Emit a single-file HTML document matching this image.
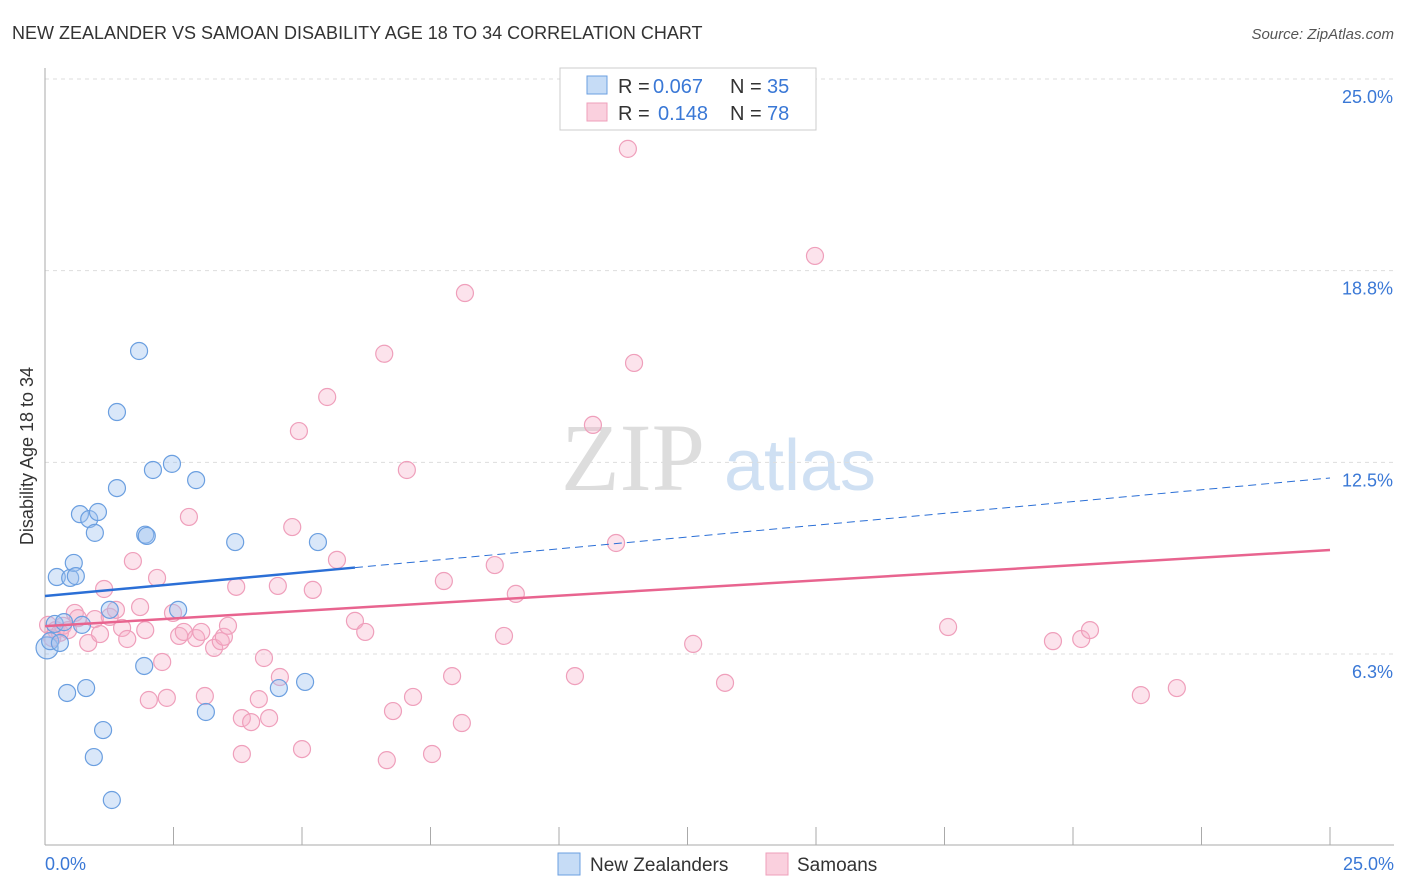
<!DOCTYPE html>
<html><head><meta charset="utf-8"><style>
body{margin:0;background:#fff;font-family:"Liberation Sans",sans-serif;}
svg{display:block}
</style></head><body>
<svg id="c" width="1406" height="892"></svg>
<script>
const blueX=[0.04,0.10,0.19,0.29,0.23,0.37,0.49,0.56,0.60,0.43,0.68,0.80,0.86,0.97,1.03,1.13,0.95,1.30,1.26,1.40,1.40,1.83,1.95,1.98,1.93,2.10,2.47,2.59,2.94,3.13,3.70,4.55,5.06,5.31,0.72];
const blueY=[6.45,6.67,7.23,6.61,8.76,7.29,8.73,9.22,8.79,4.98,10.81,5.14,10.65,10.20,10.88,3.77,2.89,1.49,7.69,11.66,14.14,16.13,10.14,10.10,5.86,12.25,12.45,7.69,11.92,4.36,9.90,5.14,5.34,9.90,7.20];
const pinkX=[0.06,0.14,0.21,0.29,0.35,0.45,0.58,0.64,0.84,0.97,1.07,1.15,1.26,1.38,1.50,1.60,1.71,1.85,1.95,2.02,2.18,2.28,2.37,2.49,2.61,2.70,2.80,2.94,3.04,3.11,3.29,3.42,3.48,3.56,3.72,3.83,3.83,4.01,4.16,4.26,4.36,4.53,4.57,4.81,4.94,5.00,5.21,5.49,5.68,6.03,6.23,6.60,6.77,7.04,7.16,6.65,7.53,7.76,7.92,8.11,8.17,8.75,8.93,9.16,10.31,10.66,11.11,11.34,11.46,12.61,13.23,14.98,17.57,19.61,20.16,20.33,21.32,22.02];
const pinkY=[7.20,6.77,7.03,6.94,7.17,7.03,7.59,7.42,6.61,7.39,6.90,8.37,7.46,7.69,7.10,6.74,9.28,7.78,7.03,4.75,8.73,5.99,4.82,7.59,6.84,6.97,10.72,6.77,6.97,4.88,6.45,6.67,6.81,7.17,8.44,4.16,2.99,4.03,4.78,6.12,4.16,8.47,5.50,10.39,13.52,3.15,8.34,14.63,9.32,7.33,6.97,16.04,4.39,12.25,4.85,2.79,2.99,8.63,5.53,4.00,18.02,9.15,6.84,8.21,5.53,13.72,9.87,22.72,15.74,6.58,5.31,19.23,7.13,6.67,6.74,7.03,4.91,5.14];
const blueTrend=[8.14,11.99];
const pinkTrend=[7.16,9.64];
const yTicks=[6.3,12.5,18.8,25.0];
const yTickVals=[6.25,12.5,18.75,25];

const NS="http://www.w3.org/2000/svg";
const svg=document.getElementById('c');
const X=v=>45+v*51.4;
const Y=v=>845.7-v*30.67;
function el(t,a,p){const e=document.createElementNS(NS,t);for(const k in a)e.setAttribute(k,a[k]);(p||svg).appendChild(e);return e;}
function tx(s,a){const e=el('text',a);e.textContent=s;return e;}

let t=tx('NEW ZEALANDER VS SAMOAN DISABILITY AGE 18 TO 34 CORRELATION CHART',{x:12,y:39,'font-size':18,fill:'#333'});


t=tx('Source: ZipAtlas.com',{x:1394,y:39,'font-size':15,fill:'#555','font-style':'italic','text-anchor':'end'});



// watermark
t=tx('ZIP',{x:633,y:490,'font-size':96,fill:'#ddd','font-family':'Liberation Serif, serif','text-anchor':'middle'});


t=tx('atlas',{x:800,y:490,'font-size':72,fill:'#cfe0f3','text-anchor':'middle'});



// gridlines
yTickVals.forEach((v,i)=>{
  const g=el('line',{x1:45,x2:1394,y1:Y(v),y2:Y(v),stroke:'#ddd','stroke-dasharray':'4,4'});
  
  
  const l=tx(yTicks[i].toFixed(1)+'%',{x:1393,y:Y(v)+24,'font-size':18,fill:'#3a78d6','text-anchor':'end'});
  
  
});
let a=el('line',{x1:45,x2:45,y1:68,y2:845,stroke:'#aaa'});


a=el('line',{x1:45,x2:1394,y1:845,y2:845,stroke:'#aaa'});


for(let i=0;i<=10;i++){
  const k=el('line',{x1:X(i*2.5),x2:X(i*2.5),y1:827,y2:845,stroke:'#aaa'});
  
  
}
t=tx('0.0%',{x:45,y:870,'font-size':18,fill:'#3a78d6'});


t=tx('25.0%',{x:1394,y:870,'font-size':18,fill:'#3a78d6','text-anchor':'end'});


t=tx('Disability Age 18 to 34',{x:0,y:0,'font-size':18,fill:'#333','text-anchor':'middle',transform:'translate(33,456) rotate(-90)'});



// points
pinkX.forEach((v,i)=>{
  const c=el('circle',{cx:X(v),cy:Y(pinkY[i]),r:8.5,fill:'rgba(246,176,200,0.35)',stroke:'#ef9fbb','stroke-width':1.2});
  
  
});
blueX.forEach((v,i)=>{
  const c=el('circle',{cx:X(v),cy:Y(blueY[i]),r:i==0?11:8.5,fill:'rgba(160,196,240,0.4)',stroke:'#6b9fe0','stroke-width':1.2});
  
  
});
// trend lines
const bAt=x=>blueTrend[0]+(blueTrend[1]-blueTrend[0])*x/25;
let L=el('line',{x1:X(0),y1:Y(bAt(0)),x2:X(6.03),y2:Y(bAt(6.03)),stroke:'#2b6fd6','stroke-width':2.5});


L=el('line',{x1:X(6.03),y1:Y(bAt(6.03)),x2:X(25),y2:Y(bAt(25)),stroke:'#2b6fd6','stroke-width':1,'stroke-dasharray':'8,5'});


L=el('line',{x1:X(0),y1:Y(pinkTrend[0]),x2:X(25),y2:Y(pinkTrend[1]),stroke:'#e8648f','stroke-width':2.5});



// legend top
const lg=el('g',{});


el('rect',{x:560,y:68,width:256,height:62,fill:'#fff',stroke:'#ccc'},lg);
el('rect',{x:587,y:76,width:20,height:18,fill:'rgba(160,196,240,0.6)',stroke:'#6b9fe0'},lg);
el('rect',{x:587,y:103,width:20,height:18,fill:'rgba(246,176,200,0.6)',stroke:'#ef9fbb'},lg);
function lt(s,x,y,c){const e=el('text',{x:x,y:y,'font-size':20,fill:c},lg);e.textContent=s;}
lt('R =',618,93,'#333');lt('0.067',653,93,'#3a78d6');lt('N =',730,93,'#333');lt('35',767,93,'#3a78d6');
lt('R =',618,120,'#333');lt('0.148',658,120,'#3a78d6');lt('N =',730,120,'#333');lt('78',767,120,'#3a78d6');

// bottom legend
const bl=el('g',{});


el('rect',{x:558,y:853,width:22,height:22,fill:'rgba(160,196,240,0.6)',stroke:'#6b9fe0'},bl);
el('rect',{x:766,y:853,width:22,height:22,fill:'rgba(246,176,200,0.6)',stroke:'#ef9fbb'},bl);
let e1=el('text',{x:590,y:871,'font-size':19,fill:'#333'},bl);e1.textContent='New Zealanders';
let e2=el('text',{x:797,y:871,'font-size':19,fill:'#333'},bl);e2.textContent='Samoans';
</script>
</body></html>
